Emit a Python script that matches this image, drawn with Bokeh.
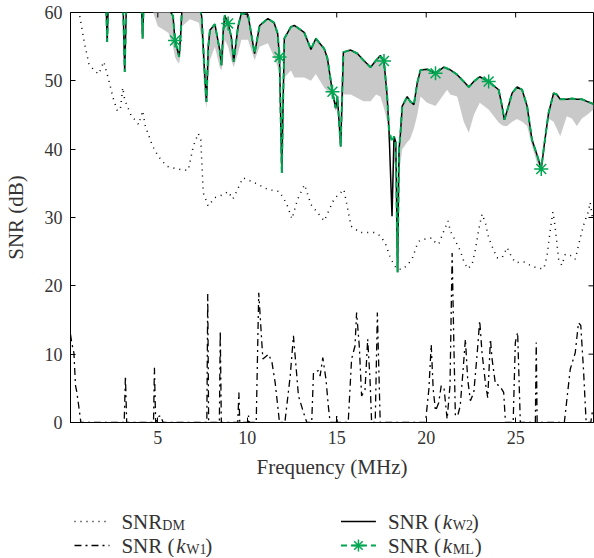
from bokeh.plotting import figure
from bokeh.models import Range1d, FixedTicker
from bokeh.layouts import column
from bokeh.embed import file_html
from bokeh.resources import INLINE
from bokeh.core.properties import value

FONT = "Liberation Serif"
GREEN = "#00a651"
TXT = "#333333"

# ---- data ----
x_ticks = [5, 10, 15, 20, 25]
y_ticks = [0, 10, 20, 30, 40, 50, 60]
x_lim = (0.12, 29.35)
y_lim = (0, 60)

kw2_freq = [0.12, 1.9, 2.1, 2.17, 2.24, 3.05, 3.15, 3.25, 4.08, 4.15, 4.22, 4.6, 5.0, 5.3, 5.6,
            5.85, 5.96, 6.05, 6.19, 6.28, 6.36, 6.8, 7.3, 7.45, 7.6, 7.72, 7.82, 7.91, 8.19, 8.46,
            8.56, 8.65, 8.74, 8.93, 9.11, 9.24, 9.48, 9.67, 10.04, 10.41, 10.69, 11.15, 11.5, 11.7,
            11.8, 11.93, 12.07, 12.44, 12.63, 13.18, 13.56, 13.83, 14.3, 14.48, 14.76, 14.94, 15.04,
            15.22, 15.37, 15.78, 16.15, 16.5, 16.89, 17.2, 17.44, 17.64, 17.82, 17.92, 18.09, 18.2,
            18.3, 18.4, 18.48, 18.56, 18.66, 18.94, 19.1, 19.31, 19.5, 19.68, 20.05, 20.52, 20.98,
            21.17, 21.35, 21.73, 22.1, 22.38, 22.66, 22.99, 23.49, 24.05, 24.24, 24.37, 24.52, 24.8,
            25.08, 25.36, 25.64, 25.91, 26.19, 26.43, 26.61, 26.84, 27.12, 27.3, 27.49, 27.86, 28.14,
            28.42, 28.7, 28.98, 29.35]
kw2_snr = [66, 64, 62, 55.7, 62, 62, 51.3, 62, 62, 56.2, 62, 63, 62, 61, 60.5,
           59.5, 55.9, 55.0, 53.5, 57.0, 61, 62, 61, 59.5, 52.0, 46.9, 55.0, 57.4, 58.3, 54.5,
           52.3, 57.1, 59.6, 58.4, 56.4, 52.8, 57.9, 59.9, 59.7, 54.0, 58.1, 59.1, 58.5, 56.9,
           53.5, 36.5, 56.2, 57.9, 58.1, 57.1, 54.6, 56.2, 54.7, 53.3, 48.4, 46.0, 47.7,
           40.4, 54.2, 54.5, 54.0, 53.0, 52.0, 53.0, 53.7, 52.9, 47.7, 42.9, 30.2, 41.9,
           41.0, 22.0, 39.9, 42.3, 46.3, 47.7, 47.0, 46.5, 49.7, 51.6, 51.7, 51.1, 52.0,
           51.8, 51.6, 50.9, 49.9, 49.1, 49.9, 50.6, 49.9, 48.7, 46.3, 44.3, 45.6, 48.2,
           49.1, 48.7, 46.3, 41.4, 39.2, 37.1, 40.9, 45.3, 48.2, 48.0, 47.3, 47.3, 47.4,
           47.3, 47.3, 47.0, 46.6]
kml_snr = [66, 64, 62, 55.7, 62, 62, 51.3, 62, 62, 56.2, 62, 63, 62, 61, 60.5,
           59.5, 55.9, 55.0, 53.5, 57.0, 61, 62, 61, 59.5, 52.0, 46.9, 55.0, 57.4, 58.3, 54.5,
           52.3, 57.1, 59.6, 58.4, 56.4, 52.8, 57.9, 59.9, 59.7, 54.0, 58.1, 59.1, 58.5, 56.9,
           53.5, 36.5, 56.2, 57.9, 58.1, 57.1, 54.6, 56.2, 54.7, 53.3, 48.4, 46.0, 47.7,
           40.4, 54.2, 54.5, 54.0, 53.0, 52.0, 53.0, 53.7, 52.9, 47.7, 42.9, 41.0, 41.9,
           41.0, 22.0, 39.9, 42.3, 46.3, 47.7, 47.0, 46.5, 49.7, 51.6, 51.7, 51.1, 52.0,
           51.8, 51.6, 50.9, 49.9, 49.1, 49.9, 50.6, 49.9, 48.7, 46.3, 44.3, 45.6, 48.2,
           49.1, 48.7, 46.3, 41.4, 39.2, 37.1, 40.9, 45.3, 48.2, 48.0, 47.3, 47.3, 47.4,
           47.3, 47.3, 47.0, 46.6]
band_low = [66, 64, 62, 55.7, 62, 62, 51.3, 62, 62, 56.2, 62, 61, 58, 57.5, 57,
            55, 53.5, 53, 52.5, 54, 58, 59, 58.5, 56, 48, 46, 50, 53, 55, 52,
            51.5, 53, 56, 55, 53, 52, 54, 56, 56, 53, 55, 55.5, 53.5, 52,
            51, 36.5, 50.5, 51.5, 50.5, 50.5, 50, 51, 49, 48.5, 47.5, 45.5, 46,
            40, 48, 48, 47.5, 47, 47, 48, 47.7, 46, 44, 41, 30.2, 38,
            37.5, 22, 37, 38, 40, 41, 41.5, 43, 45, 47.7, 46.8, 46.3, 48,
            48.7, 48, 47.7, 44, 42.4, 45, 46.8, 45.8, 43.9, 43.5, 43.4, 43.4, 44,
            44.4, 44, 43.4, 40.5, 38, 37, 40, 44.5, 44, 43, 41.9, 44.8, 44.5,
            43.4, 44.5, 45, 45.8]

kml_star_freq = [5.96, 8.93, 11.8, 14.76, 17.64, 20.52, 23.49, 26.43]
kml_star_snr = [55.9, 58.4, 53.5, 48.4, 52.9, 51.1, 49.9, 37.1]

dm_freq = [0.35, 0.61, 0.9, 1.15, 1.45, 1.7, 1.98, 2.26, 2.5, 2.72, 2.9, 3.04, 3.15, 3.5, 3.93,
           4.15, 4.3, 4.7, 5.04, 5.5, 5.96, 6.33, 6.7, 6.98, 7.26, 7.4, 7.54, 7.81, 8.19, 8.6,
           8.93, 9.2, 9.76, 10.4, 11.15, 11.8, 12.2, 12.5, 12.8, 13.2, 13.56, 14.3, 14.85, 15.4,
           15.8, 16.3, 17.07, 17.45, 17.73, 18.01, 18.34, 18.66, 18.94, 19.22, 19.46, 19.64,
           20.05, 20.33, 20.52, 20.7, 20.98, 21.22, 21.35, 21.63, 21.91, 22.1, 22.32, 22.56,
           22.75, 22.94, 23.12, 23.31, 23.49, 23.68, 23.96, 24.24, 24.52, 24.8, 24.99, 25.45,
           25.82, 26.2, 26.57, 26.75, 26.94, 27.08, 27.2, 27.4, 27.58, 27.77, 28.14, 28.33,
           28.61, 28.83, 29.07, 29.16, 29.3]
dm_snr = [62, 59.9, 55.5, 52.5, 51.5, 51.0, 52.8, 50.1, 47.5, 45.7, 45.7, 49.0, 47.2, 45.0, 43.6,
          45.6, 43.4, 40.5, 38.9, 37.5, 37.2, 37.0, 36.9, 40.4, 42.3, 41.4, 33.6, 31.7, 32.9, 33.3,
          33.8, 32.7, 35.8, 35.1, 34.1, 33.8, 32.0, 29.8, 32.6, 34.8, 31.9, 29.5, 32.7, 34.1,
          28.75, 27.8, 27.8, 27.3, 26.1, 24.0, 22.5, 22.4, 23.0, 24.0, 25.8, 26.65,
          26.9, 27.0, 26.3, 26.1, 28.0, 29.5, 28.0, 26.6, 25.1, 23.6, 22.5, 23.1,
          25.3, 28.3, 30.5, 29.2, 27.0, 25.8, 24.1, 24.1, 25.6, 24.1, 23.4, 23.5,
          23.0, 22.6, 22.5, 24.3, 28.3, 30.8, 28.8, 23.9, 23.0, 24.6, 24.4, 23.9,
          27.0, 29.2, 30.9, 32.2, 29.8]

kw1_freq = [0.12, 0.2, 0.31, 0.4, 0.47, 0.55, 0.65, 0.7, 3.12, 3.19, 3.26, 4.76, 4.81, 4.88, 5.0,
            5.15, 5.3, 7.74, 7.79, 7.84, 8.44, 8.49, 8.55, 9.47, 9.53, 9.58, 10.03, 10.07, 10.11,
            10.5, 10.64, 10.87, 11.19, 11.38, 11.56, 11.74, 11.8, 12.1, 12.4, 12.58, 12.73, 12.86,
            13.15, 13.33, 13.6, 13.7, 13.98, 14.07, 14.22, 14.4, 14.53, 14.63, 14.97, 15.0, 15.03,
            15.64, 15.83, 16.02, 16.11, 16.26, 16.39, 16.58, 16.73, 16.86, 16.95, 17.15, 17.27,
            17.43, 19.96, 20.15, 20.28, 20.39, 20.52, 20.7, 20.84, 21.0, 21.17, 21.33, 21.45,
            21.54, 21.63, 21.76, 21.9, 22.05, 22.19, 22.32, 22.47, 22.66, 22.84, 22.99, 23.12,
            23.31, 23.44, 23.59, 23.68, 23.87, 24.1, 24.33, 24.43, 24.86, 24.98, 25.11, 25.26,
            26.1, 26.15, 26.2, 27.72, 28.05, 28.33, 28.51, 28.64, 28.79, 28.94, 29.2, 29.31]
kw1_snr = [12.9, 11.5, 10.2, 5.4, 4.5, 3.0, 1.0, 0, 0, 6.8, 0, 0, 8.0, 0, 0.8,
           1.0, 0, 0, 18.8, 0, 0, 13.4, 0, 0, 4.4, 0, 0, 1.0, 0,
           0, 19.0, 9.3, 10.0, 8.8, 5.8, 1.5, 0, 0, 6.8, 12.7, 8.0, 3.9,
           1.4, 0, 0, 7.3, 7.6, 6.8, 9.5, 6.3, 2.4, 0, 0, 1.0, 0,
           0, 9.3, 11.2, 16.1, 11.2, 3.9, 4.8, 12.2, 6.3, 0, 0, 16.1,
           0, 0, 4.9, 11.4, 4.9, 1.7, 2.9, 5.4, 4.9, 0.5, 5.4, 24.8,
           12.2, 1.0, 1.0, 2.4, 7.3, 12.2, 6.3, 3.2, 4.4, 9.8, 14.9, 10.2,
           5.8, 3.6, 12.2, 9.3, 5.6, 5.4, 4.4, 0, 0, 11.7, 13.2, 0,
           0, 11.7, 0, 0, 7.8, 10.2, 14.6, 14.2, 7.8, 0, 0, 2.0]

legend_labels = [("SNR", "DM"), ("SNR (", "k", "W1", ")"),
                 ("SNR (", "k", "W2", ")"), ("SNR (", "k", "ML", ")")]

# ---- main plot ----
W = 594
BL, BR, BT, BB = 69, 1, 12, 58
FH = 411
p = figure(width=W, height=BT + FH + BB, output_backend="svg", toolbar_location=None,
           x_range=Range1d(*x_lim), y_range=Range1d(*y_lim),
           min_border_left=BL, min_border_right=BR, min_border_top=BT, min_border_bottom=BB)
p.grid.visible = False
p.outline_line_color = "black"
p.outline_line_width = 1

p.varea(x=kw2_freq, y1=band_low, y2=kw2_snr, fill_color="#c9c9c9")
p.line(dm_freq, dm_snr, line_color="black", line_width=1.5, line_dash="1 5")
p.line(kw1_freq, kw1_snr, line_color="black", line_width=1.3, line_dash="7 4 2 4")
p.line(kw2_freq, kw2_snr, line_color="black", line_width=1.5)
p.line(kw2_freq, kml_snr, line_color=GREEN, line_width=2, line_dash="6 4")
p.scatter(kml_star_freq, kml_star_snr, marker="asterisk", size=14, line_color=GREEN, line_width=1.5)

# inward ticks on the top and right frame edges (box style)
FW = W - BL - BR
tick_px = 5
dy = (y_lim[1] - y_lim[0]) * tick_px / FH
dx = (x_lim[1] - x_lim[0]) * tick_px / FW
p.segment(x0=x_ticks, x1=x_ticks, y0=[y_lim[1]] * len(x_ticks), y1=[y_lim[1] - dy] * len(x_ticks),
          line_color="black", line_width=1)
p.segment(x0=[x_lim[1]] * len(y_ticks), x1=[x_lim[1] - dx] * len(y_ticks), y0=y_ticks, y1=y_ticks,
          line_color="black", line_width=1)

for ax in (p.xaxis[0], p.yaxis[0]):
    ax.major_tick_in = 5
    ax.major_tick_out = 0
    ax.minor_tick_line_color = None
    ax.axis_line_color = "black"
    ax.major_tick_line_color = "black"
    ax.major_label_text_font = FONT
    ax.major_label_text_font_size = "18px"
    ax.major_label_text_color = TXT
    ax.axis_label_text_font = FONT
    ax.axis_label_text_font_size = "21px"
    ax.axis_label_text_font_style = "normal"
    ax.axis_label_text_color = TXT
p.xaxis[0].ticker = FixedTicker(ticks=x_ticks)
p.yaxis[0].ticker = FixedTicker(ticks=y_ticks)
p.xaxis[0].axis_label = "Frequency (MHz)"
p.yaxis[0].axis_label = "SNR (dB)"
p.xaxis[0].major_label_standoff = 8
p.xaxis[0].axis_label_standoff = 8
p.yaxis[0].major_label_standoff = 8
p.yaxis[0].axis_label_standoff = 14

# ---- legend panel (its frame lines up with the main frame, so use page-x coordinates) ----
LH = 76
lg = figure(width=W, height=LH, output_backend="svg", toolbar_location=None,
            x_range=Range1d(BL, W - BR), y_range=Range1d(LH, 0),
            x_axis_type=None, y_axis_type=None,
            min_border_left=BL, min_border_right=BR, min_border_top=0, min_border_bottom=0)
lg.grid.visible = False
lg.outline_line_color = None

r1, r2 = 40, 64
lg.line([73, 108], [r1, r1], line_color="black", line_width=1.5, line_dash="1 5")
lg.line([73, 108], [r2, r2], line_color="black", line_width=1.3, line_dash="7 4 2 4")
lg.line([340, 375], [r1, r1], line_color="black", line_width=1.5)
lg.line([340, 375], [r2, r2], line_color=GREEN, line_width=2, line_dash="6 4")
lg.scatter([357.5], [r2], marker="asterisk", size=12, line_color=GREEN, line_width=1.5)

def txt(x, y, s, size="21px", style="normal"):
    lg.text([x], [y], text=[s], text_font=value(FONT), text_font_size=size,
            text_font_style=style, text_color=TXT, text_align="left", text_baseline="middle")

lab = legend_labels
txt(120, r1, lab[0][0]); txt(161, r1 + 4, lab[0][1], size="14px")
for (x0, y, parts) in ((120, r2, lab[1]), (387, r1, lab[2]), (387, r2, lab[3])):
    txt(x0, y, parts[0])
    txt(x0 + 55, y, parts[1], style="italic")
    txt(x0 + 65, y + 4, parts[2], size="14px")
    txt(x0 + (87 if parts[2] == "ML" else 84), y, parts[3])

layout = column(p, lg, spacing=0)
open("out.html", "w").write(file_html(layout, INLINE))
